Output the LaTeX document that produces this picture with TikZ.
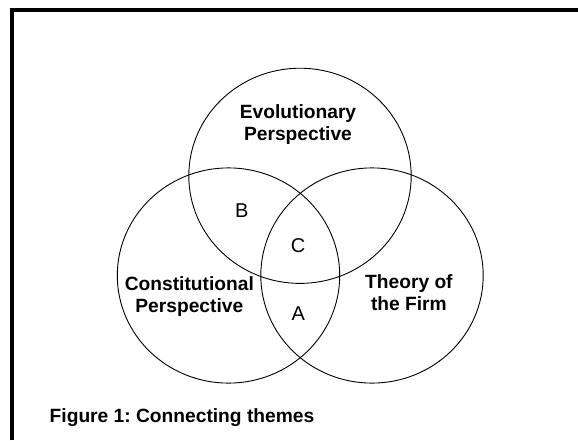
\documentclass[tikz,border=0pt]{standalone}
\usepackage{fontspec}
\setmainfont{Liberation Sans}
\frenchspacing

\begin{document}
\begin{tikzpicture}[
    x=1pt, y=-1pt,
    theme/.style={font=\fontsize{19.2}{22.3}\selectfont\bfseries, align=center, inner sep=0pt},
    region/.style={font=\fontsize{20}{22}\selectfont, inner sep=0pt},
    ring/.style={line width=0.9pt}
  ]
      \pgfmathsetmacro{\rx}{111.2};
      \pgfmathsetmacro{\ry}{107.6};

      \useasboundingbox (0,0) rectangle (578,440);

      % frame, only the top and left edges fall on the page
      \draw[line width=4pt] (11.5,440) -- (11.5,9.5) -- (578,9.5);

      % the three overlapping sets
      \draw[ring] (300,175.8) ellipse [x radius=\rx, y radius=\ry];
      \draw[ring] (228.5,275.5) ellipse [x radius=\rx, y radius=\ry];
      \draw[ring] (372,275.5) ellipse [x radius=\rx, y radius=\ry];

      \node[theme] (evo) at (298,124.5) {Evolutionary\\Perspective};
      \node[theme] (cons) at (189.3,296.2) {Constitutional\\Perspective};
      \node[theme] (firm) at (408.9,292.9) {Theory of\\the Firm};

      \node[region] (b) at (241.7,210.7) {B};
      \node[region] (c) at (298.2,245.7) {C};
      \node[region] (a) at (298.2,313.3) {A};

      \node[theme, anchor=west] (caption) at (49.5,417.5) {Figure 1: Connecting themes};

      % \draw[red] (0,0) grid[step=50] (578,440);
    \end{tikzpicture}
\end{document}
